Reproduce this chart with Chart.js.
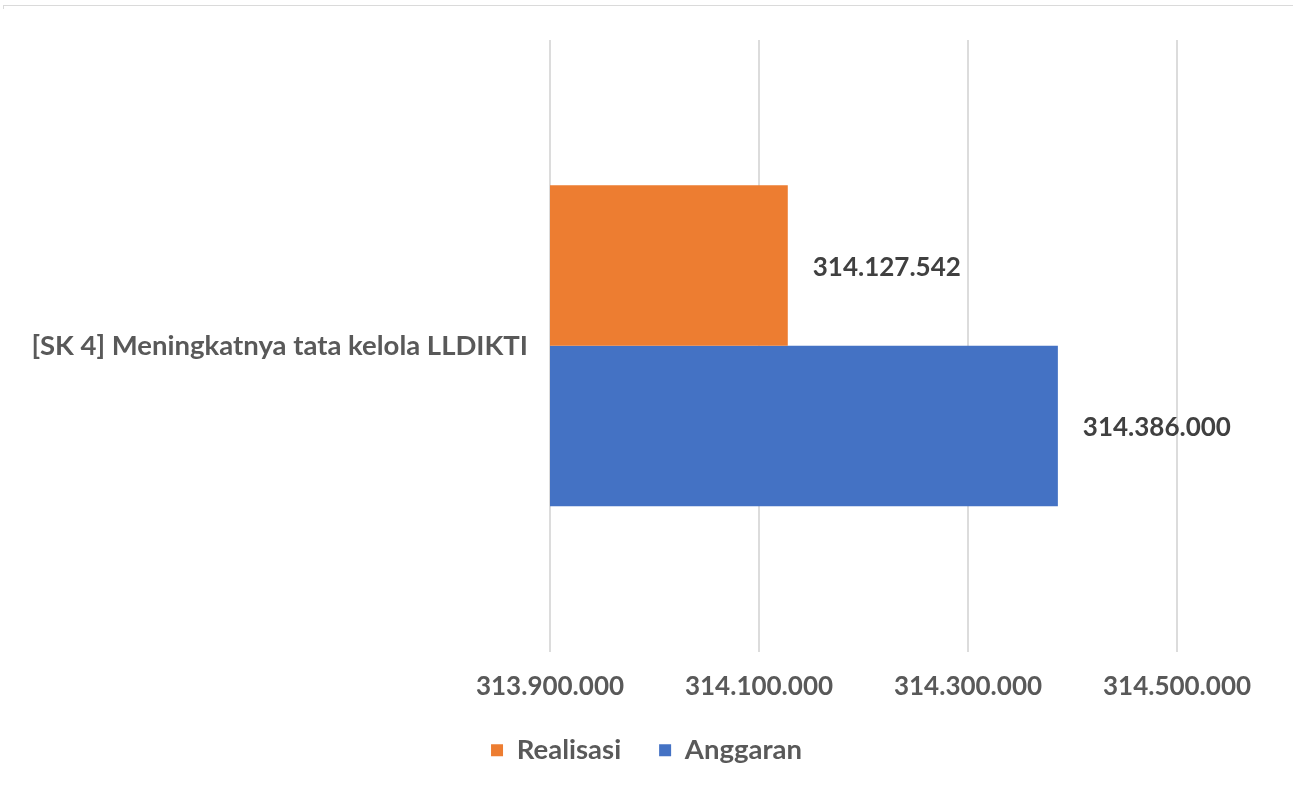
<!DOCTYPE html>
<html>
<head>
<meta charset="utf-8">
<script src="https://cdn.jsdelivr.net/npm/chart.js@4"></script>
<style>
  html, body { margin: 0; padding: 0; background: #fff; }
  #wrap { position: relative; width: 1293px; height: 789px; }
  #frame { position: absolute; top: 5px; left: 3px; right: 0; height: 3px;
           border-top: 1px solid #dadada; border-left: 1px solid #dadada; }
</style>
</head>
<body>
<div id="wrap">
  <div id="frame"></div>
  <canvas id="anggaranChart" width="1293" height="789"></canvas>
</div>
<script>
  // Data anggaran vs realisasi
  const categories = ['[SK 4] Meningkatnya tata kelola LLDIKTI'];
  const realisasi = [314127542];
  const anggaran = [314386000];
  const xTicks = [313900000, 314100000, 314300000, 314500000];

  const fmt = v => Math.round(v).toString().replace(/\B(?=(\d{3})+(?!\d))/g, '.');
  const FONT = 'Lato, "Open Sans", sans-serif';

  // Label nilai di ujung batang
  const valueLabels = {
    id: 'valueLabels',
    afterDatasetsDraw(chart) {
      const ctx = chart.ctx;
      ctx.save();
      ctx.font = 'bold 26px ' + FONT;
      ctx.fillStyle = '#404040';
      ctx.textAlign = 'left';
      ctx.textBaseline = 'middle';
      chart.data.datasets.forEach((ds, i) => {
        chart.getDatasetMeta(i).data.forEach((bar, j) => {
          ctx.fillText(fmt(ds.data[j]), bar.x + 25, bar.y + 2);
        });
      });
      ctx.restore();
    }
  };

  const ctx = document.getElementById('anggaranChart').getContext('2d');
  const myChart = new Chart(ctx, {
    type: 'bar',
    data: {
      labels: categories,
      datasets: [
        { label: 'Realisasi', data: realisasi, backgroundColor: '#ED7D31' },
        { label: 'Anggaran', data: anggaran, backgroundColor: '#4472C4' }
      ]
    },
    options: {
      indexAxis: 'y',
      responsive: false,
      animation: false,
      layout: { padding: { top: 40, right: 0, left: 0, bottom: 15 } },
      categoryPercentage: 0.525,
      barPercentage: 1,
      scales: {
        x: {
          min: xTicks[0],
          max: xTicks[xTicks.length - 1],
          afterBuildTicks: axis => { axis.ticks = xTicks.map(v => ({ value: v })); },
          afterFit: axis => { axis.height = 47; },
          grid: { color: '#dcdcdc', lineWidth: 2, drawTicks: false },
          border: { display: false },
          ticks: {
            padding: 20,
            color: '#595959',
            font: { family: FONT, size: 26, weight: 'bold' },
            callback: v => fmt(v)
          }
        },
        y: {
          grid: { display: false, drawTicks: false },
          border: { display: false },
          afterFit: axis => { axis.width = 550; },
          ticks: {
            padding: 22,
            color: '#595959',
            font: { family: FONT, size: 27.5, weight: 'bold' }
          }
        },
        // ruang kosong di kanan area plot
        yKanan: {
          position: 'right',
          grid: { display: false, drawTicks: false },
          border: { display: false },
          ticks: { display: false },
          afterFit: axis => { axis.width = 116; }
        }
      },
      plugins: {
        legend: {
          position: 'bottom',
          labels: {
            boxWidth: 12,
            boxHeight: 12,
            padding: 38,
            color: '#595959',
            font: { family: FONT, size: 27.5, weight: 'bold' }
          }
        },
        tooltip: { enabled: false }
      }
    },
    plugins: [valueLabels]
  });
</script>
</body>
</html>
